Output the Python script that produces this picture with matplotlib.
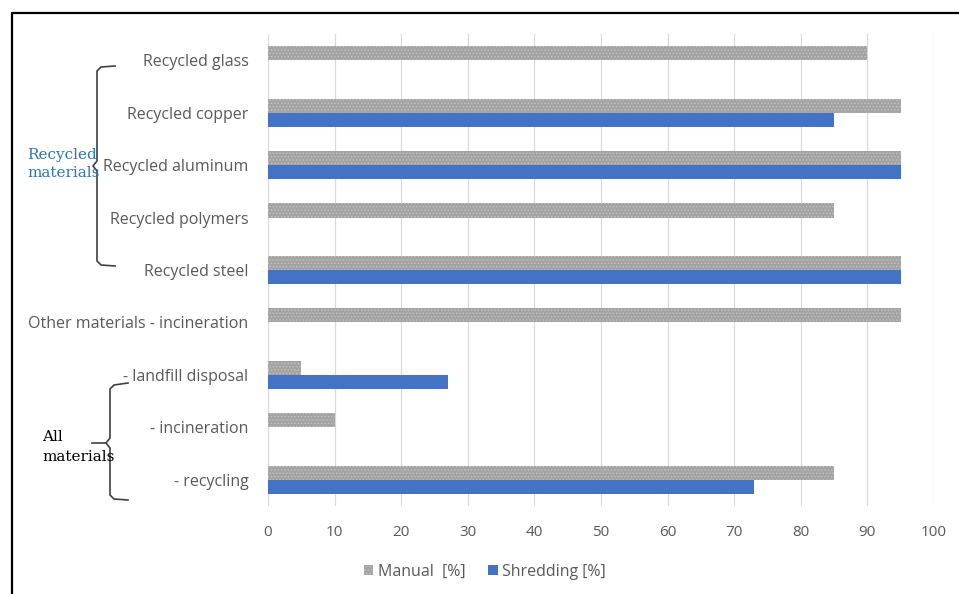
import matplotlib.pyplot as plt
from matplotlib.lines import Line2D
import numpy as np

categories = ["Recycled glass", "Recycled copper", "Recycled aluminum",
              "Recycled polymers", "Recycled steel",
              "Other materials - incineration",
              "- landfill disposal", "- incineration", "- recycling"]
manual = [90, 95, 95, 85, 95, 95, 5, 10, 85]
shredding = [0, 85, 95, 0, 95, 0, 27, 0, 73]
xticks = [0, 10, 20, 30, 40, 50, 60, 70, 80, 90, 100]

gray = "#a3a3a3"
blue = "#4472c4"
text_col = "#595959"

plt.rcParams['font.family'] = ['Open Sans', 'DejaVu Sans']
plt.rcParams['hatch.color'] = '#c4c4c4'
plt.rcParams['hatch.linewidth'] = 0.6

fig = plt.figure(figsize=(9.59, 5.94), dpi=100)
ax = fig.add_axes([268 / 959, 1 - 506 / 594, 666 / 959, 472 / 594])

y = np.arange(len(categories))
h = 0.27
ax.barh(y - h / 2, manual, height=h, color=gray, hatch='.....', linewidth=0,
        label="Manual  [%]", zorder=3)
ax.barh(y + h / 2, shredding, height=h, color=blue, linewidth=0,
        label="Shredding [%]", zorder=3)

ax.set_ylim(len(categories) - 0.5, -0.5)
ax.set_xlim(0, 100)
ax.set_xticks(xticks)
ax.set_yticks(y)
ax.set_yticklabels(categories)
ax.tick_params(axis='y', length=0, pad=14, labelsize=11.5, labelcolor=text_col)
ax.tick_params(axis='x', length=0, pad=14, labelsize=11, labelcolor=text_col)
ax.grid(axis='x', color='#d9d9d9', linewidth=0.9, zorder=0)
for s in ax.spines.values():
    s.set_visible(False)

fig.legend(loc='center', bbox_to_anchor=(485 / 959, 1 - 572 / 594), ncol=2,
           frameon=False, fontsize=11.5, labelcolor=text_col, handlelength=0.6,
           handleheight=0.6, handletextpad=0.3, columnspacing=1.4)

# frame lines (top and left)
def px(xs, ys):
    return [x / 959 for x in xs], [1 - v / 594 for v in ys]

fx, fy = px([12, 12, 959], [594, 13, 13])
fig.add_artist(Line2D(fx, fy, color='black', lw=1.6))

# braces
bx, by = px([115, 101, 97, 97, 93, 97, 97, 101, 115],
            [66, 67, 71, 161, 166, 171, 261, 265, 266])
fig.add_artist(Line2D(bx, by, color='#404040', lw=1.2))
bx, by = px([128, 114, 110, 110, 106, 110, 110, 114, 128],
            [383, 385, 389, 438, 443, 448, 495, 499, 500])
fig.add_artist(Line2D(bx, by, color='#404040', lw=1.2))
bx, by = px([92, 106], [443, 443])
fig.add_artist(Line2D(bx, by, color='#404040', lw=1.2))

fig.text(27 / 959, 1 - 155 / 594, "Recycled", color='#2e75b6',
         family='DejaVu Serif', fontsize=11, va='center', ha='left')
fig.text(27 / 959, 1 - 173 / 594, "materials", color='#2e75b6',
         family='DejaVu Serif', fontsize=11, va='center', ha='left')
fig.text(42 / 959, 1 - 437 / 594, "All", color='black',
         family='DejaVu Serif', fontsize=11, va='center', ha='left')
fig.text(42 / 959, 1 - 457 / 594, "materials", color='black',
         family='DejaVu Serif', fontsize=11, va='center', ha='left')

fig.savefig("out.png", dpi=100)
